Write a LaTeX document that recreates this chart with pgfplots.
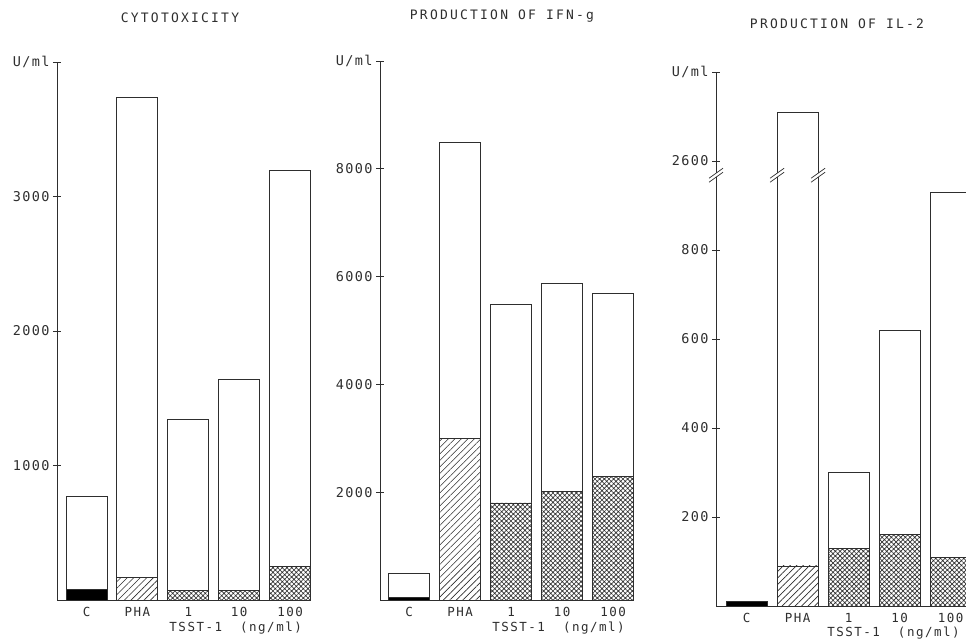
\documentclass[border=0pt]{standalone}
\usepackage{fontspec}
\setmonofont{DejaVu Sans Mono}
\usepackage{pgfplots}
\pgfplotsset{compat=1.18}
\usetikzlibrary{patterns.meta}
\newfontfamily\tickfont{DejaVu Sans Mono}[LetterSpace=10]
\newfontfamily\labfont{DejaVu Sans Mono}[LetterSpace=12]
\newfontfamily\titfont{DejaVu Sans Mono}[LetterSpace=17]
\colorlet{ink}{black!82}

\pgfplotsset{
  panel/.style={
    scale only axis,
    axis lines=left,
    axis line style={-, line width=0.8pt, ink},
    ymin=0,
    xtick={0,1,2,3,4}, xticklabels={C,PHA,1,10,100},
    xtick style={draw=none},
    ytick style={line width=0.8pt, ink},
    tick align=center, major tick length=8pt,
    y tick label style={font=\tickfont\fontsize{13.5}{13.5}\selectfont, text=ink},
    x tick label style={font=\labfont\fontsize{12.5}{12.5}\selectfont, text=ink, yshift=0pt},
    /pgf/number format/assume math mode=true,
    scaled y ticks=false,
    clip=false,
  },
  outer/.style={ybar, bar width=41pt, bar shift=0pt, draw=ink, line width=0.9pt, fill=white},
  blk/.style={ybar, bar width=41pt, bar shift=0pt, draw=ink, line width=0.9pt, fill=black},
  lin/.style={ybar, bar width=41pt, bar shift=0pt, draw=ink, line width=0.9pt, fill=white,
    postaction={pattern={Lines[angle=45,distance=4.6pt,line width=0.6pt]}, pattern color=ink}},
  hat/.style={ybar, bar width=41pt, bar shift=0pt, draw=ink, line width=0.9pt, fill=white,
    postaction={pattern={Hatch[angle=45,distance=3.3pt,line width=0.65pt]}, pattern color=ink}},
}

% #1: horizontal offset (pt), #2: point on the axis
\newcommand\brk[2]{%
  \node[fill=white, minimum width=17pt, minimum height=3pt, inner sep=0pt, rotate=36] at ([xshift=#1pt]#2) {};
  \draw[ink, line width=0.7pt] ([shift={(#1pt-7pt,-7pt)}]#2) -- ++(14pt,10pt);
  \draw[ink, line width=0.7pt] ([shift={(#1pt-7pt,-3pt)}]#2) -- ++(14pt,10pt);
}

\begin{document}
\begin{tikzpicture}
\useasboundingbox (0,0) rectangle (966pt,640pt);

% ---------------- CYTOTOXICITY ----------------
\begin{axis}[panel, at={(57pt,40pt)}, anchor=south west,
  width=254pt, height=538pt, xmin=-0.58, xmax=4.41, ymax=4000,
  ytick={1000,2000,3000,4000}, yticklabels={1000,2000,3000,U/ml}]
\addplot[outer] coordinates {(0,770) (1,3740) (2,1340) (3,1640) (4,3190)};
\addplot[blk] coordinates {(0,80)};
\addplot[lin] coordinates {(1,170)};
\addplot[hat] coordinates {(2,70) (3,70) (4,250)};
\node[font=\labfont\fontsize{12.5}{12.5}\selectfont, text=ink] at (axis cs:2.93,0) [yshift=-28pt] {TSST-1\ \ (ng/ml)};
\end{axis}

% ---------------- IFN-g ----------------
\begin{axis}[panel, at={(380pt,40pt)}, anchor=south west,
  width=254pt, height=539pt, xmin=-0.57, xmax=4.41, ymax=10000,
  ytick={2000,4000,6000,8000,10000}, yticklabels={2000,4000,6000,8000,U/ml}]
\addplot[outer] coordinates {(0,500) (1,8480) (2,5480) (3,5880) (4,5680)};
\addplot[blk] coordinates {(0,50)};
\addplot[lin] coordinates {(1,3000)};
\addplot[hat] coordinates {(2,1800) (3,2010) (4,2300)};
\node[font=\labfont\fontsize{12.5}{12.5}\selectfont, text=ink] at (axis cs:2.93,0) [yshift=-28pt] {TSST-1\ \ (ng/ml)};
\end{axis}

% ---------------- IL-2 (broken axis: values above the break are shown minus 1600) ----------------
\begin{axis}[panel, at={(716pt,34pt)}, anchor=south west,
  width=255.5pt, height=534pt, xmin=-0.6, xmax=4.41, ymax=1200,
  ytick={200,400,600,800,1000,1200}, yticklabels={200,400,600,800,2600,U/ml}]
\addplot[outer] coordinates {(0,10) (1,1108) (2,300) (3,620) (4,930)};
\addplot[blk] coordinates {(0,10)};
\addplot[lin] coordinates {(1,90)};
\addplot[hat] coordinates {(2,130) (3,160) (4,110)};
\brk{0}{axis cs:-0.6,968}
\brk{-20.5}{axis cs:1,968}
\brk{20.5}{axis cs:1,968}
\node[font=\labfont\fontsize{12.5}{12.5}\selectfont, text=ink] at (axis cs:2.88,0) [yshift=-27pt] {TSST-1\ \ (ng/ml)};
\end{axis}

% titles
\node[font=\titfont\fontsize{13}{13}\selectfont, text=ink] at (180pt,622pt) {CYTOTOXICITY};
\node[font=\titfont\fontsize{13}{13}\selectfont, text=ink] at (502pt,624pt) {PRODUCTION OF IFN-g};
\node[font=\titfont\fontsize{13}{13}\selectfont, text=ink] at (837pt,616pt) {PRODUCTION OF IL-2};
\end{tikzpicture}
\end{document}
